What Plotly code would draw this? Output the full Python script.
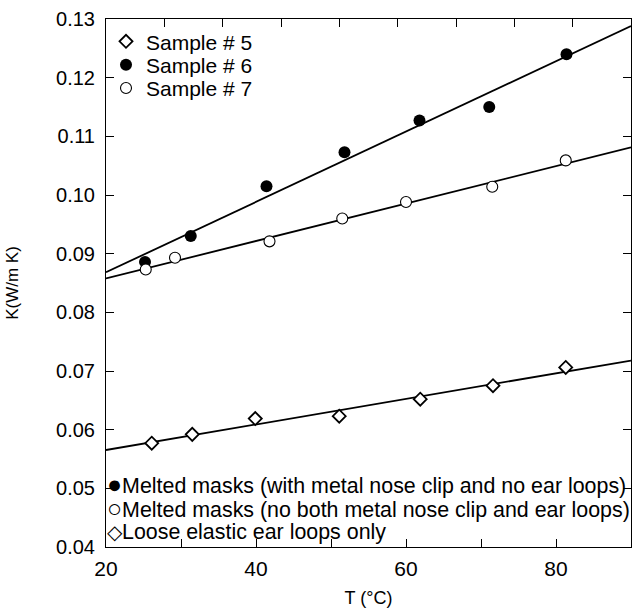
import numpy as np
import plotly.graph_objects as go

# ---- data ----
T5 = [26.1, 31.5, 39.9, 51.1, 61.9, 71.6, 81.3]
K5 = [0.0577, 0.0592, 0.0619, 0.0623, 0.0652, 0.0675, 0.0706]
T6 = [25.2, 31.3, 41.4, 51.8, 61.8, 71.1, 81.4]
K6 = [0.0886, 0.0930, 0.1015, 0.1073, 0.1127, 0.1150, 0.1240]
T7 = [25.3, 29.2, 41.8, 51.5, 60.0, 71.5, 81.3]
K7 = [0.0873, 0.0893, 0.0921, 0.0960, 0.0988, 0.1014, 0.1059]
series_names = ["Sample # 5", "Sample # 6", "Sample # 7"]
note_symbols = ["●", "○", "◇"]
note_texts = ["Melted masks (with metal nose clip and no ear loops)",
              "Melted masks (no both metal nose clip and ear loops)",
              "Loose elastic ear loops only"]
X_RANGE = [20, 90]
Y_RANGE = [0.04, 0.13]
TOP_TICK_RANGE = [0, 9]   # the top frame carries 9 equal tick intervals

FONT = "Liberation Sans, Arial, sans-serif"
fig = go.Figure()

# linear fits drawn across the full axis range
xfit = np.array(X_RANGE, dtype=float)
for T, K in [(T5, K5), (T6, K6), (T7, K7)]:
    m, b = np.polyfit(T, K, 1)
    fig.add_trace(go.Scatter(x=xfit, y=m * xfit + b, mode="lines",
                             line=dict(color="black", width=1.8),
                             showlegend=False, hoverinfo="skip"))

fig.add_trace(go.Scatter(x=T5, y=K5, mode="markers", name=series_names[0],
                         legend="legend",
                         marker=dict(symbol="diamond", size=10, color="white",
                                     line=dict(color="black", width=1.8))))
fig.add_trace(go.Scatter(x=T6, y=K6, mode="markers", name=series_names[1],
                         legend="legend2",
                         marker=dict(symbol="circle", size=12, color="black",
                                     line=dict(color="black", width=0))))
fig.add_trace(go.Scatter(x=T7, y=K7, mode="markers", name=series_names[2],
                         legend="legend3",
                         marker=dict(symbol="circle", size=11, color="white",
                                     line=dict(color="black", width=1.1))))

# fully transparent helper trace so the top overlay axis (tick marks only) is drawn
fig.add_trace(go.Scatter(x=TOP_TICK_RANGE, y=Y_RANGE, xaxis="x2", yaxis="y",
                         mode="markers", marker=dict(opacity=0, size=1),
                         showlegend=False, hoverinfo="skip"))

leg_common = dict(x=0.0, xanchor="left", yanchor="middle",
                  bgcolor="rgba(0,0,0,0)", borderwidth=0,
                  font=dict(family=FONT, size=21, color="black"))
PLOT_H = 528.0
def ypaper(px):
    return (547.0 - px) / PLOT_H

fig.update_layout(
    width=632, height=608,
    margin=dict(l=106, r=1, t=19, b=61, autoexpand=False),
    paper_bgcolor="white", plot_bgcolor="white",
    font=dict(family=FONT, color="black"),
    legend=dict(y=ypaper(41.7), **leg_common),
    legend2=dict(y=ypaper(65.0), **leg_common),
    legend3=dict(y=ypaper(88.3), **leg_common),
    xaxis=dict(range=X_RANGE, dtick=20, tick0=20, ticks="inside", ticklen=8,
               tickcolor="black", showline=True, linecolor="black", linewidth=1,
               mirror=True, showgrid=False, zeroline=False, automargin=False,
               minor=dict(dtick=10, tick0=20, ticks="inside", ticklen=8,
                          tickcolor="black", showgrid=False),
               tickfont=dict(family=FONT, size=21, color="black"),
               ticklabelstandoff=3,
               title=dict(text="T (°C)", font=dict(family=FONT, size=18, color="black"),
                          standoff=12)),
    xaxis2=dict(range=TOP_TICK_RANGE, dtick=1, tick0=0, overlaying="x", anchor="y",
                side="top", ticks="inside", ticklen=8, tickwidth=1, tickcolor="black",
                showticklabels=False, showgrid=False, zeroline=False,
                showline=False, automargin=False, visible=True),
    yaxis=dict(range=Y_RANGE, dtick=0.01, tick0=0.04, tickformat=".2f",
               ticks="inside", ticklen=8, tickcolor="black", showline=True,
               linecolor="black", linewidth=1, mirror="ticks", showgrid=False,
               zeroline=False, ticklabelstandoff=6, automargin=False,
               tickfont=dict(family=FONT, size=20, color="black"),
               title=dict(text="K(W/m K)", font=dict(family=FONT, size=17, color="black"),
                          standoff=33)),
)

for sym, txt, ypx in zip(note_symbols, note_texts, [484, 508, 532]):
    size = 25 if sym != "◇" else 20
    fig.add_annotation(text=f'<span style="font-size:{size}px">{sym}</span>{txt}',
                       xref="paper", yref="paper", x=0, y=ypaper(ypx),
                       xanchor="left", yanchor="middle", showarrow=False, xshift=-1,
                       font=dict(family=FONT, size=21.4, color="black"))

fig.write_html("out.html", config={"displayModeBar": False},
               post_script="document.body.style.margin='0';")
